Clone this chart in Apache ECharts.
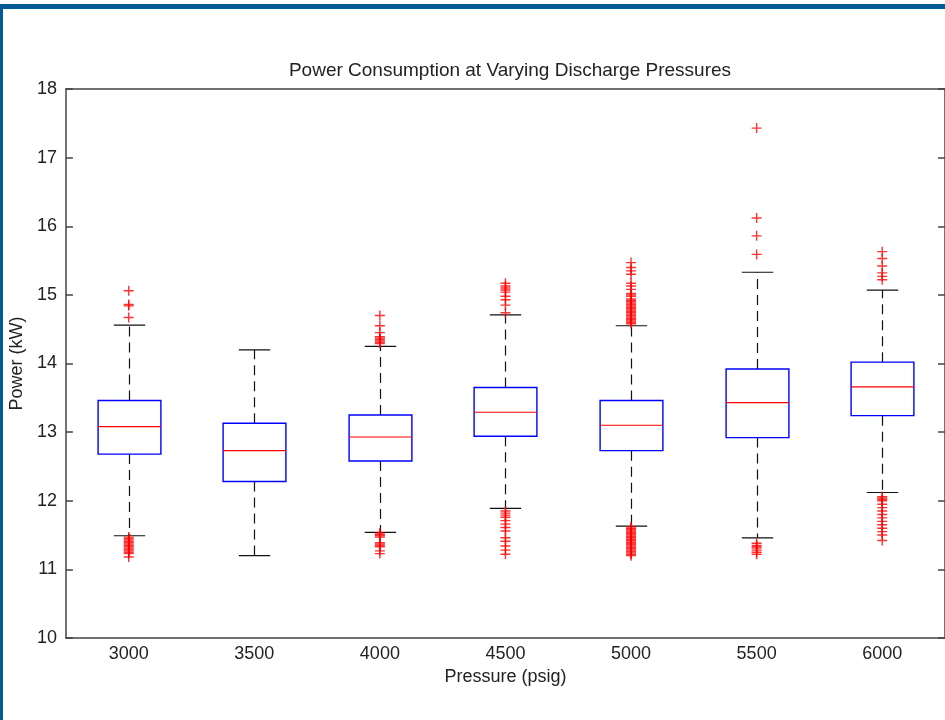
<!DOCTYPE html>
<html>
<head>
<meta charset="utf-8">
<script src="https://cdn.jsdelivr.net/npm/echarts@6/dist/echarts.min.js"></script>
<style>
    html, body { margin: 0; padding: 0; background: #fff; }
    #chart { width: 945px; height: 720px; }
</style>
</head>
<body>
<div id="chart"></div>
<script>
    // pressures (psig)
    var categories = ['3000', '3500', '4000', '4500', '5000', '5500', '6000'];
    // whisker low, Q1, median, Q3, whisker high (kW)
    var boxStats = [
        [11.49, 12.68, 13.08, 13.46, 14.56],
        [11.20, 12.28, 12.73, 13.13, 14.20],
        [11.54, 12.58, 12.93, 13.25, 14.25],
        [11.89, 12.94, 13.29, 13.65, 14.71],
        [11.63, 12.73, 13.10, 13.46, 14.55],
        [11.46, 12.92, 13.43, 13.92, 15.33],
        [12.12, 13.24, 13.66, 14.02, 15.07]
    ];
    // outliers for each pressure
    var out3000 = [15.06, 14.86, 14.84, 14.67,
        11.47, 11.45, 11.43, 11.41, 11.39, 11.37, 11.35, 11.33, 11.31, 11.29, 11.27, 11.25, 11.23, 11.18];
    var out3500 = [];
    var out4000 = [14.70, 14.55, 14.45, 14.39, 14.37, 14.35, 14.33, 14.31, 14.29,
        11.53, 11.51, 11.49, 11.47, 11.39, 11.37, 11.35, 11.33, 11.27, 11.23];
    var out4500 = [15.17, 15.13, 15.10, 15.07, 15.04, 14.98, 14.93, 14.85, 14.74,
        11.85, 11.82, 11.79, 11.76, 11.71, 11.66, 11.61, 11.56, 11.46, 11.41, 11.34, 11.28, 11.22];
    var out5000 = [15.47, 15.40, 15.35, 15.30, 15.17, 15.13, 15.08, 15.02, 15.00, 14.98,
        14.94, 14.92, 14.90, 14.88, 14.86, 14.84, 14.82, 14.80, 14.78, 14.76, 14.74,
        14.72, 14.70, 14.68, 14.66, 14.64, 14.62, 14.60, 14.58,
        11.62, 11.60, 11.58, 11.56, 11.54, 11.52, 11.50, 11.48, 11.46, 11.44, 11.42,
        11.40, 11.38, 11.36, 11.34, 11.32, 11.30, 11.28, 11.26, 11.24, 11.22, 11.20];
    var out5500 = [17.43, 16.12, 15.86, 15.59,
        11.38, 11.35, 11.33, 11.31, 11.28, 11.25, 11.22];
    var out6000 = [15.63, 15.53, 15.42, 15.32, 15.27, 15.22,
        12.06, 12.04, 12.02, 12.00, 11.95, 11.90, 11.85, 11.80, 11.75, 11.70,
        11.65, 11.60, 11.55, 11.50, 11.42];
    var yTicks = [10, 18, 1];

    var outlierLists = [out3000, out3500, out4000, out4500, out5000, out5500, out6000];
    var outlierData = [];
    outlierLists.forEach(function (list, i) {
        list.forEach(function (v) { outlierData.push([i, v]); });
    });
    var boxData = boxStats.map(function (s, i) { return [i].concat(s); });

    var plus = 'path://M4.3,0H5.7V4.3H10V5.7H5.7V10H4.3V5.7H0V4.3H4.3Z';
    var font = 'Liberation Sans, Arial, sans-serif';
    var textColor = '#222';
    var lineColor = '#444';

    function renderBox(params, api) {
        var x = api.value(0);
        var pLo = api.coord([x, api.value(1)]);
        var pQ1 = api.coord([x, api.value(2)]);
        var pMed = api.coord([x, api.value(3)]);
        var pQ3 = api.coord([x, api.value(4)]);
        var pHi = api.coord([x, api.value(5)]);
        var w = api.size([1, 0])[0] * 0.5;
        var cx = Math.round(pMed[0]) + 0.5;
        var half = w / 2, cap = w / 4;
        var whisker = {stroke: '#111', lineWidth: 1.2, lineDash: [10, 6]};
        var solid = {stroke: '#111', lineWidth: 1.2};
        return {
            type: 'group',
            children: [
                {type: 'line', shape: {x1: cx, y1: pQ3[1], x2: cx, y2: pHi[1]}, style: whisker},
                {type: 'line', shape: {x1: cx, y1: pQ1[1], x2: cx, y2: pLo[1]}, style: whisker},
                {type: 'line', shape: {x1: cx - cap, y1: pHi[1], x2: cx + cap, y2: pHi[1]}, style: solid},
                {type: 'line', shape: {x1: cx - cap, y1: pLo[1], x2: cx + cap, y2: pLo[1]}, style: solid},
                {
                    type: 'rect',
                    shape: {x: cx - half, y: pQ3[1], width: w, height: pQ1[1] - pQ3[1]},
                    style: {fill: '#fff', stroke: '#0000ff', lineWidth: 1.4}
                },
                {type: 'line', shape: {x1: cx - half, y1: pMed[1], x2: cx + half, y2: pMed[1]},
                    style: {stroke: '#ff0000', lineWidth: 1.1}}
            ]
        };
    }

    var chart = echarts.init(document.getElementById('chart'));
    chart.setOption({
        animation: false,
        backgroundColor: '#fff',
        title: {
            text: 'Power Consumption at Varying Discharge Pressures',
            left: 505,
            textAlign: 'center',
            top: 56,
            textStyle: {fontFamily: font, fontSize: 19, fontWeight: 'normal', color: textColor}
        },
        graphic: [
            {type: 'rect', shape: {x: 0, y: 4, width: 945, height: 5}, style: {fill: '#005a96'}},
            {type: 'rect', shape: {x: 0, y: 4, width: 3, height: 716}, style: {fill: '#005a96'}}
        ],
        grid: {left: 63, top: 89, width: 884, height: 549},
        xAxis: [
            {
                type: 'category',
                data: categories,
                boundaryGap: true,
                name: 'Pressure (psig)',
                nameLocation: 'middle',
                nameGap: 30,
                nameTextStyle: {fontFamily: font, fontSize: 18, color: textColor},
                axisLine: {lineStyle: {color: lineColor, width: 1.5}},
                axisTick: {show: false},
                axisLabel: {fontFamily: font, fontSize: 18, color: textColor, margin: 7},
                splitLine: {show: false}
            },
            {
                type: 'category',
                data: categories,
                position: 'top',
                axisLine: {lineStyle: {color: lineColor, width: 1.5}},
                axisTick: {show: false},
                axisLabel: {show: false}
            }
        ],
        yAxis: [
            {
                type: 'value',
                min: yTicks[0],
                max: yTicks[1],
                interval: yTicks[2],
                name: 'Power (kW)',
                nameLocation: 'middle',
                nameGap: 36,
                nameTextStyle: {fontFamily: font, fontSize: 18, color: textColor},
                axisLine: {show: true, lineStyle: {color: lineColor, width: 1.5}},
                axisTick: {show: true, inside: true, length: 7, lineStyle: {color: lineColor, width: 1.5}},
                axisLabel: {fontFamily: font, fontSize: 18, color: textColor, margin: 9},
                splitLine: {show: false}
            },
            {
                type: 'value',
                position: 'right',
                min: yTicks[0],
                max: yTicks[1],
                interval: yTicks[2],
                axisLine: {show: true, lineStyle: {color: lineColor, width: 1.5}},
                axisTick: {show: true, inside: true, length: 7, lineStyle: {color: lineColor, width: 1.5}},
                axisLabel: {show: false},
                splitLine: {show: false}
            }
        ],
        series: [
            {
                type: 'custom',
                renderItem: renderBox,
                encode: {x: 0, y: [1, 2, 3, 4, 5]},
                data: boxData,
                z: 2
            },
            {
                type: 'scatter',
                data: outlierData,
                symbol: plus,
                symbolSize: 10,
                itemStyle: {color: '#ff0000'},
                z: 3
            }
        ]
    });
</script>
</body>
</html>
